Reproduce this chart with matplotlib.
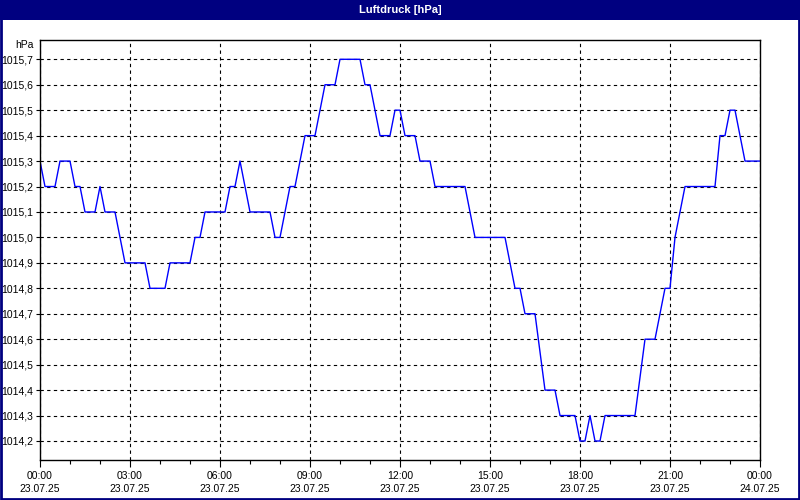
import matplotlib
matplotlib.use("Agg")
import matplotlib.pyplot as plt
import numpy as np

# Luftdruck, 10-Minuten-Werte 23.07.25 00:00 .. 24.07.25 00:00
druck = [
    1015.3, 1015.2, 1015.2, 1015.2, 1015.3, 1015.3, 1015.3, 1015.2, 1015.2, 1015.1,
    1015.1, 1015.1, 1015.2, 1015.1, 1015.1, 1015.1, 1015.0, 1014.9, 1014.9, 1014.9,
    1014.9, 1014.9, 1014.8, 1014.8, 1014.8, 1014.8, 1014.9, 1014.9, 1014.9, 1014.9,
    1014.9, 1015.0, 1015.0, 1015.1, 1015.1, 1015.1, 1015.1, 1015.1, 1015.2, 1015.2,
    1015.3, 1015.2, 1015.1, 1015.1, 1015.1, 1015.1, 1015.1, 1015.0, 1015.0, 1015.1,
    1015.2, 1015.2, 1015.3, 1015.4, 1015.4, 1015.4, 1015.5, 1015.6, 1015.6, 1015.6,
    1015.7, 1015.7, 1015.7, 1015.7, 1015.7, 1015.6, 1015.6, 1015.5, 1015.4, 1015.4,
    1015.4, 1015.5, 1015.5, 1015.4, 1015.4, 1015.4, 1015.3, 1015.3, 1015.3, 1015.2,
    1015.2, 1015.2, 1015.2, 1015.2, 1015.2, 1015.2, 1015.1, 1015.0, 1015.0, 1015.0,
    1015.0, 1015.0, 1015.0, 1015.0, 1014.9, 1014.8, 1014.8, 1014.7, 1014.7, 1014.7,
    1014.55, 1014.4, 1014.4, 1014.4, 1014.3, 1014.3, 1014.3, 1014.3, 1014.2, 1014.2,
    1014.3, 1014.2, 1014.2, 1014.3, 1014.3, 1014.3, 1014.3, 1014.3, 1014.3, 1014.3,
    1014.45, 1014.6, 1014.6, 1014.6, 1014.7, 1014.8, 1014.8, 1015.0, 1015.1, 1015.2,
    1015.2, 1015.2, 1015.2, 1015.2, 1015.2, 1015.2, 1015.4, 1015.4, 1015.5, 1015.5,
    1015.4, 1015.3, 1015.3, 1015.3, 1015.3,
]
stunden = np.arange(len(druck)) / 6.0

x_ticks = [0, 3, 6, 9, 12, 15, 18, 21, 24]
x_labels = ["00:00\n23.07.25", "03:00\n23.07.25", "06:00\n23.07.25",
            "09:00\n23.07.25", "12:00\n23.07.25", "15:00\n23.07.25",
            "18:00\n23.07.25", "21:00\n23.07.25", "00:00\n24.07.25"]
y_ticks = [1014.2, 1014.3, 1014.4, 1014.5, 1014.6, 1014.7, 1014.8, 1014.9,
           1015.0, 1015.1, 1015.2, 1015.3, 1015.4, 1015.5, 1015.6, 1015.7]

navy = "#000080"
fnt = ["Liberation Sans Narrow", "Liberation Sans", "DejaVu Sans"]
plt.rcParams["font.family"] = fnt

fig = plt.figure(figsize=(8, 5), dpi=100)
fig.patch.set_facecolor("white")

# Titelleiste und Rahmen
fig.patches.append(plt.Rectangle((0, 1 - 20 / 500), 1, 20 / 500, transform=fig.transFigure,
                                 facecolor=navy, edgecolor="none", zorder=0))
fig.patches.append(plt.Rectangle((0.001, 0.002), 0.998, 0.997, transform=fig.transFigure,
                                 facecolor="none", edgecolor=navy, linewidth=2, zorder=5))
fig.text(0.5, 1 - 10 / 500, "Luftdruck [hPa]", color="white", fontsize=8,
         fontweight="bold", ha="center", va="center")

ax = fig.add_axes([40 / 800, 40 / 500, 720 / 800, 420 / 500])
ax.plot(stunden, druck, color="#0000ff", linewidth=1.0)

ax.set_xlim(0, 24)
ax.set_ylim(1014.1253, 1015.7758)
ax.set_xticks(x_ticks)
ax.set_xticklabels(x_labels, fontsize=7.5, linespacing=1.35)
ax.set_xticks(range(25), minor=True)
ax.set_yticks(y_ticks)
ax.set_yticklabels([("%.1f" % v).replace(".", ",") for v in y_ticks], fontsize=7.5)

ax.grid(True, which="major", color="black", linestyle=(0, (3, 3)), linewidth=0.8)
ax.tick_params(axis="x", which="major", length=5, width=0.8, pad=3)
ax.tick_params(axis="x", which="minor", length=3, width=0.8)
ax.tick_params(axis="y", length=3, width=0.8, pad=2)
for s in ax.spines.values():
    s.set_linewidth(1.0)
    s.set_color("black")

fig.text(34 / 800, 1 - 44.5 / 500, "hPa", fontsize=7.5, ha="right", va="center")

fig.savefig("out.png", dpi=100)
